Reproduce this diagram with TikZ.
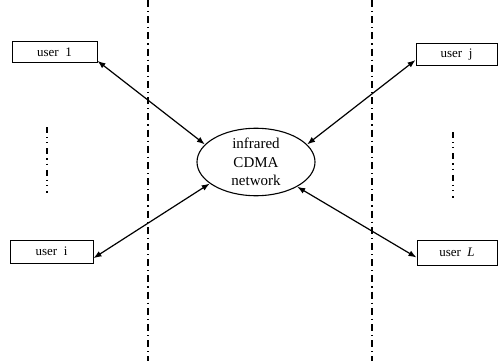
\documentclass[tikz,border=0pt]{standalone}
\usepackage{fontspec}
\setmainfont{Liberation Serif}
\usetikzlibrary{arrows.meta,shapes.geometric}
\begin{document}
\begin{tikzpicture}[x=1pt,y=-1pt,
  userbox/.style={draw,line width=1pt,rectangle,inner sep=0pt,font=\fontsize{13}{14}\selectfont},
  link/.style={line width=1.2pt,{Latex[length=8pt,width=6pt]}-{Latex[length=8pt,width=6pt]}},
  divider/.style={line width=1.1pt,dash pattern=on 7pt off 4pt on 1.2pt off 4pt},
  ellipsis/.style={line width=1.1pt,dash pattern=on 6pt off 4pt on 1.2pt off 4pt on 1.2pt off 5pt}]
\useasboundingbox (0,0) rectangle (501,361);
% dividers
\coordinate (d1t) at (148,0); \coordinate (d1b) at (148,361);
\coordinate (d2t) at (372,0); \coordinate (d2b) at (372,361);
\draw[divider] (d1t) -- (d1b);
\draw[divider] (d2t) -- (d2b);
% vertical ellipsis marks
\coordinate (e1t) at (47,127); \coordinate (e1b) at (47,193);
\coordinate (e2t) at (453,132); \coordinate (e2b) at (453,198);
\draw[ellipsis] (e1t) -- (e1b);
\draw[ellipsis] (e2t) -- (e2b);
% users
\node[userbox,minimum width=85pt,minimum height=21pt] (u1) at (54.5,52.5) {user\enspace 1};
\node[userbox,minimum width=81pt,minimum height=22pt] (uj) at (456.5,55) {user\enspace j};
\node[userbox,minimum width=83pt,minimum height=23pt] (ui) at (51.5,251.5) {user\enspace i};
\node[userbox,minimum width=80pt,minimum height=25pt] (uL) at (457,252.5) {user\enspace \textit{L}};
% network
\node[draw,ellipse,line width=1.1pt,minimum width=118pt,minimum height=59pt,inner sep=0pt,align=center,
  font=\fontsize{15}{18.5}\selectfont] (net) at (256,162) {infrared\\CDMA\\network};
% links
\draw[link] (net.161) -- (u1.-11);
\draw[link] (net.19) -- (uj.187);
\draw[link] (net.205) -- (ui.-9);
\draw[link] (net.-31) -- (uL.187);
\end{tikzpicture}
\end{document}
